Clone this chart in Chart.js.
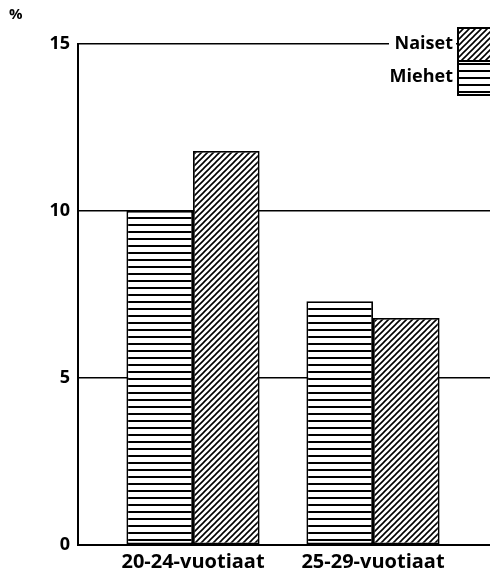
<!DOCTYPE html>
<html>
<head>
<meta charset="utf-8">
<script src="https://cdn.jsdelivr.net/npm/chart.js@4.4.1/dist/chart.umd.min.js"></script>
<style>
  html, body { margin: 0; padding: 0; background: #fff; }
  #wrap { width: 490px; height: 574px; position: relative; }
</style>
</head>
<body>
<div id="wrap"><canvas id="c" width="490" height="574"></canvas></div>
<script>
const categories = ['20-24-vuotiaat', '25-29-vuotiaat'];
const seriesNames = ['Miehet', 'Naiset'];
const miehet = [10.0, 7.3];
const naiset = [11.8, 6.8];
const yTicks = [0, 5, 10, 15];
const unitLabel = '%';

const FONT = "'Open Sans', 'DejaVu Sans', sans-serif";

function stripePattern() {
  const t = document.createElement('canvas');
  t.width = 8; t.height = 7;
  const g = t.getContext('2d');
  g.fillStyle = '#fff'; g.fillRect(0, 0, 8, 7);
  g.fillStyle = '#000'; g.fillRect(0, 0, 8, 2);
  return g.createPattern(t, 'repeat');
}
function hatchPattern() {
  const s = 6;
  const t = document.createElement('canvas');
  t.width = s; t.height = s;
  const g = t.getContext('2d');
  g.fillStyle = '#fff'; g.fillRect(0, 0, s, s);
  g.strokeStyle = '#000'; g.lineWidth = 1.6;
  g.beginPath();
  g.moveTo(-1, s + 1); g.lineTo(s + 1, -1);
  g.moveTo(-1, 1); g.lineTo(1, -1);
  g.moveTo(s - 1, s + 1); g.lineTo(s + 1, s - 1);
  g.stroke();
  return g.createPattern(t, 'repeat');
}
const stripes = stripePattern();
const hatch = hatchPattern();

const legendPlugin = {
  id: 'customLegend',
  afterDraw(chart) {
    const ctx = chart.ctx;
    ctx.save();
    ctx.font = 'bold 15px ' + FONT;
    ctx.fillStyle = '#000';
    ctx.textAlign = 'left';
    ctx.textBaseline = 'middle';
    ctx.fillText(unitLabel, 9, 15);
    const items = [
      { label: seriesNames[1], fill: hatch, y0: 28, y1: 61, ty: 44 },
      { label: seriesNames[0], fill: stripes, y0: 61, y1: 95, ty: 77 }
    ];
    ctx.fillStyle = '#fff';
    ctx.fillRect(389, 30, 67, 60);
    ctx.font = 'bold 18px ' + FONT;
    ctx.textAlign = 'right';
    items.forEach(it => {
      ctx.fillStyle = '#000';
      ctx.fillText(it.label, 453, it.ty);
      ctx.fillStyle = it.fill;
      ctx.fillRect(458, it.y0, 40, it.y1 - it.y0);
    });
    ctx.strokeStyle = '#000';
    ctx.lineWidth = 2;
    ctx.strokeRect(458, 28, 40, 67);
    ctx.beginPath(); ctx.moveTo(458, 61); ctx.lineTo(498, 61); ctx.stroke();
    ctx.restore();
  }
};

new Chart(document.getElementById('c'), {
  type: 'bar',
  data: {
    datasets: [
      {
        label: seriesNames[0],
        data: miehet.map((v, i) => ({ x: i + 1, y: v })),
        backgroundColor: stripes,
        borderColor: '#000',
        borderWidth: 1.8,
        borderSkipped: false,
        categoryPercentage: 0.74,
        barPercentage: 1.0
      },
      {
        label: seriesNames[1],
        data: naiset.map((v, i) => ({ x: i + 1, y: v })),
        backgroundColor: hatch,
        borderColor: '#000',
        borderWidth: 1.8,
        borderSkipped: false,
        categoryPercentage: 0.74,
        barPercentage: 1.0
      }
    ]
  },
  options: {
    responsive: false,
    animation: false,
    layout: { padding: { top: 44, right: 0, left: 0, bottom: 0 } },
    plugins: { legend: { display: false }, tooltip: { enabled: false } },
    scales: {
      x: {
        type: 'linear',
        offset: false,
        bounds: 'data',
        min: 0.361,
        max: 2.65,
        afterBuildTicks(scale) {
          scale.ticks = categories.map((c, i) => ({ value: i + 1 }));
        },
        afterFit(scale) { scale.height = 29; },
        grid: { display: false, drawTicks: false, offset: false },
        border: { display: true, color: '#000', width: 2 },
        ticks: {
          padding: 5,
          color: '#000',
          font: { family: FONT, size: 20, weight: 'bold' },
          callback: (v) => categories[v - 1] || ''
        }
      },
      y: {
        min: 0,
        max: 15,
        afterBuildTicks(scale) {
          scale.ticks = yTicks.map(v => ({ value: v }));
        },
        afterFit(scale) { scale.width = 78; },
        grid: { color: '#000', lineWidth: 1.5, drawTicks: false },
        border: { display: true, color: '#000', width: 2 },
        ticks: {
          padding: 8,
          color: '#000',
          font: { family: FONT, size: 18, weight: 'bold' }
        }
      }
    }
  },
  plugins: [legendPlugin]
});
</script>
</body>
</html>
